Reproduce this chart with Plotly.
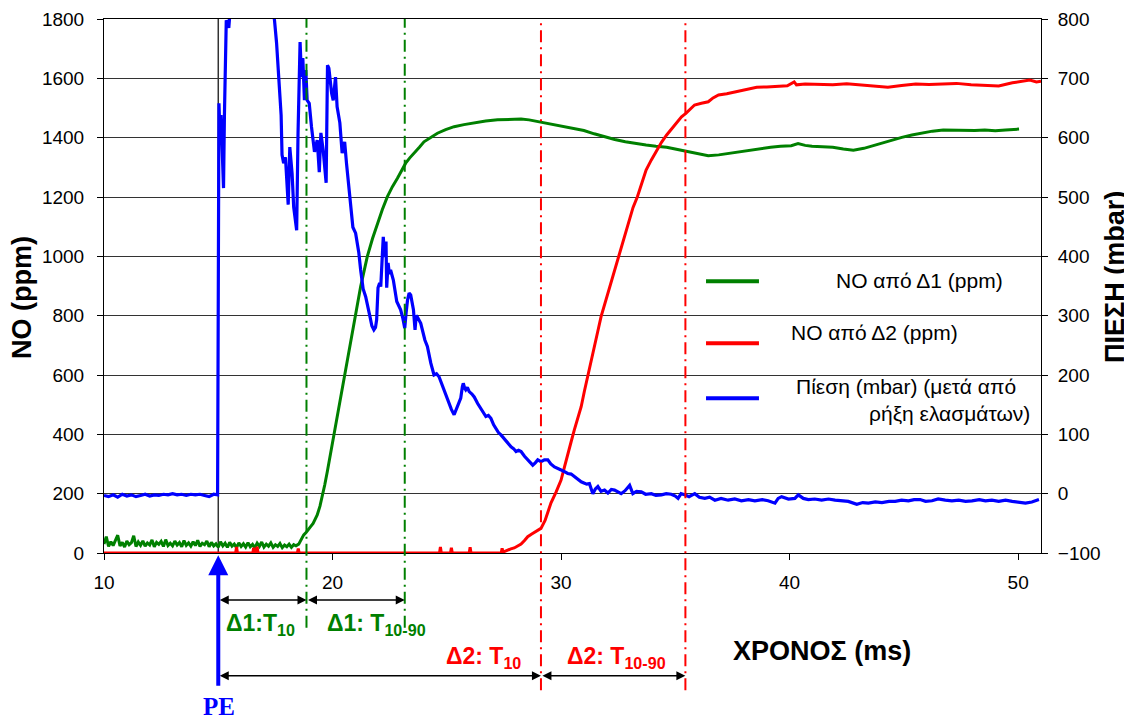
import plotly.graph_objects as go

# ---------------- data ----------------
# NO from detector D1 (ppm)
t_no1 = [10.0, 10.1, 10.2, 10.3, 10.4, 10.5, 10.6, 10.7, 10.8, 10.9,
         11.0, 11.1, 11.2, 11.3, 11.4, 11.5, 11.6, 11.7, 11.8, 11.9,
         12.0, 12.1, 12.2, 12.3, 12.4, 12.5, 12.6, 12.7, 12.8, 12.9,
         13.0, 13.1, 13.2, 13.3, 13.4, 13.5, 13.6, 13.7, 13.8, 13.9,
         14.0, 14.1, 14.2, 14.3, 14.4, 14.5, 14.6, 14.7, 14.8, 14.9,
         15.0, 15.1, 15.2, 15.3, 15.4, 15.5, 15.6, 15.7, 15.8, 15.9,
         16.0, 16.1, 16.2, 16.3, 16.4, 16.5, 16.6, 16.7, 16.8, 16.9,
         17.0, 17.1, 17.2, 17.3, 17.4, 17.5, 17.6, 17.7, 17.8, 17.9,
         18.0, 18.1, 18.2, 18.3, 18.4,
         18.52, 18.6, 18.74, 18.85, 18.95, 19.04, 19.15, 19.25, 19.33, 19.45,
         19.55, 19.66, 19.77, 19.88, 19.99, 20.1, 20.2, 20.35, 20.5, 20.64,
         20.8, 20.94, 21.08, 21.23, 21.38, 21.52, 21.75, 21.96, 22.18, 22.4,
         22.62, 22.84, 23.02, 23.2, 23.38, 23.57, 23.8, 24.0, 24.3, 24.59,
         24.95, 25.32, 25.75, 26.2, 26.7, 27.22, 27.75, 28.25, 28.6, 28.98,
         29.18, 29.6, 30.09, 30.55, 31.0, 31.45, 31.9, 32.35, 32.81, 33.25,
         33.72, 34.15, 34.62, 35.1, 35.53, 36.0, 36.44, 36.9, 37.35, 37.8,
         38.26, 38.7, 39.17, 39.6, 40.07, 40.37, 40.68, 40.98, 41.45, 41.89,
         42.35, 42.79, 43.25, 43.6, 44.0, 44.45, 44.91, 45.35, 45.82, 46.25,
         46.72, 47.2, 47.63, 48.1, 48.54, 49.0, 49.45, 49.75, 50.04]
no1 = [30, 55, 22, 38, 25, 42, 60, 24, 36, 20,
       40, 28, 35, 58, 22, 37, 26, 41, 23, 34,
       27, 44, 21, 36, 29, 39, 22, 45, 25, 33,
       24, 40, 27, 35, 21, 42, 26, 34, 23, 38,
       25, 43, 22, 33, 28, 40, 21, 36, 24, 31,
       20, 38, 24, 33, 19, 36, 23, 30, 18, 34,
       22, 31, 20, 35, 21, 29, 18, 33, 22, 37,
       20, 30, 23, 34, 19, 28, 22, 32, 18, 27,
       21, 30, 19, 28, 24,
       30, 42, 61, 70, 82, 89, 100, 115, 128, 158,
       190, 230, 274, 322, 370, 415, 459, 516, 585, 651,
       722, 785, 845, 898, 950, 999, 1060, 1111, 1158, 1201,
       1235, 1263, 1290, 1314, 1332, 1347, 1368, 1386, 1402, 1415,
       1427, 1437, 1444, 1450, 1456, 1460, 1462, 1463, 1460, 1454,
       1452, 1445, 1437, 1430, 1424, 1413, 1403, 1394, 1386, 1380,
       1375, 1371, 1368, 1360, 1353, 1345, 1339, 1342, 1347, 1353,
       1358, 1364, 1368, 1371, 1373, 1380, 1374, 1371, 1370, 1368,
       1362, 1358, 1364, 1372, 1381, 1391, 1401, 1409, 1417, 1422,
       1426, 1425, 1426, 1424, 1426, 1423, 1426, 1428, 1429]

# NO from detector D2 (ppm)
t_no2 = [10.0, 15.76, 15.8, 15.84, 16.51, 16.55, 16.59, 16.66, 16.7, 16.74,
         18.46, 18.5, 18.54, 24.68, 24.72, 24.76, 25.16, 25.2, 25.24, 25.98,
         26.02, 26.06, 27.38, 27.42, 27.46, 27.6, 27.8, 27.95, 28.1, 28.25,
         28.4, 28.54, 28.7, 28.85, 29.0, 29.12, 29.3, 29.45, 29.56, 29.78,
         30.0, 30.15, 30.29, 30.44, 30.58, 30.73, 30.88, 31.02, 31.17, 31.31,
         31.46, 31.6, 31.75, 31.95, 32.15, 32.33, 32.51, 32.74, 32.96, 33.15,
         33.34, 33.53, 33.72, 33.95, 34.18, 34.4, 34.62, 34.85, 35.08, 35.27,
         35.46, 35.65, 35.84, 36.14, 36.44, 36.65, 36.89, 37.25, 37.65, 38.1,
         38.56, 39.0, 39.47, 39.9, 40.2, 40.3, 40.68, 41.3, 41.89, 42.5,
         43.09, 43.7, 44.3, 44.9, 45.52, 46.1, 46.72, 47.3, 47.94, 48.5,
         49.15, 49.75, 50.1, 50.51, 50.8, 51.0]
no2 = [0, 0, 20, 0, 0, 18, 0, 0, 21, 0,
       0, 15, 0, 0, 20, 0, 0, 18, 0, 0,
       19, 0, 0, 16, 3, 8, 14, 17, 24, 30,
       42, 55, 63, 70, 78, 83, 110, 140, 169, 205,
       246, 290, 336, 375, 415, 455, 493, 545, 594, 645,
       695, 745, 797, 850, 905, 950, 999, 1060, 1122, 1165,
       1201, 1248, 1291, 1325, 1358, 1385, 1409, 1432, 1454, 1470,
       1482, 1496, 1510, 1516, 1521, 1534, 1544, 1548, 1555, 1562,
       1570, 1571, 1572, 1575, 1588, 1578, 1581, 1580, 1578, 1582,
       1578, 1575, 1570, 1576, 1581, 1579, 1581, 1583, 1578, 1575,
       1574, 1585, 1588, 1594, 1588, 1590]

# Pressure (mbar), after rupture of the diaphragms
t_p = [10.0, 10.2, 10.4, 10.6, 10.8, 11.0, 11.2, 11.4, 11.6, 11.8,
       12.0, 12.2, 12.4, 12.6, 12.8, 13.0, 13.2, 13.4, 13.6, 13.8,
       14.0, 14.2, 14.4, 14.6, 14.8, 14.97, 15.03, 15.08, 15.12, 15.18,
       15.23, 15.27, 15.31, 15.35, 15.42, 15.46, 15.5, 15.56, 15.8, 16.2,
       16.6, 17.0, 17.3, 17.46, 17.55, 17.68, 17.75, 17.79, 17.86, 17.94,
       18.0, 18.06, 18.13, 18.23, 18.3, 18.37, 18.43, 18.49, 18.58, 18.64,
       18.7, 18.77, 18.83, 18.89, 18.98, 19.08, 19.21, 19.33, 19.42, 19.49,
       19.59, 19.72, 19.78, 19.84, 19.96, 20.03, 20.13, 20.2, 20.32, 20.42,
       20.53, 20.61, 20.75, 20.89, 21.01, 21.15, 21.23, 21.34, 21.45, 21.55,
       21.64, 21.72, 21.81, 21.88, 21.93, 21.99, 22.06, 22.11, 22.17, 22.22,
       22.26, 22.3, 22.34, 22.37, 22.43, 22.49, 22.54, 22.66, 22.81, 22.9,
       22.98, 23.08, 23.16, 23.22, 23.28, 23.35, 23.42, 23.54, 23.61, 23.66,
       23.71, 23.86, 23.95, 24.04, 24.15, 24.22, 24.3, 24.44, 24.55, 24.66,
       24.77, 24.88, 25.0, 25.1, 25.2, 25.32, 25.4, 25.47, 25.55, 25.61,
       25.68, 25.72, 25.78, 25.83, 25.9, 25.98, 26.1, 26.2, 26.35, 26.49,
       26.6, 26.71, 26.82, 26.93, 27.05, 27.15, 27.26, 27.37, 27.48, 27.59,
       27.7, 27.81, 27.92, 28.03, 28.14, 28.25, 28.4, 28.54, 28.65, 28.76,
       28.87, 28.98, 29.12, 29.27, 29.42, 29.55, 29.71, 29.85, 30.0, 30.15,
       30.29, 30.44, 30.58, 30.7, 30.8, 30.88, 31.0, 31.12, 31.24, 31.39,
       31.5, 31.61, 31.75, 31.9, 32.05, 32.2, 32.34, 32.5, 32.63, 32.8,
       33.0, 33.14, 33.3, 33.51, 33.7, 33.95, 34.15, 34.39, 34.6, 34.82,
       35.0, 35.12, 35.25, 35.41, 35.6, 35.85, 36.05, 36.29, 36.5, 36.73,
       37.0, 37.31, 37.6, 37.89, 38.2, 38.48, 38.8, 39.06, 39.36, 39.5,
       39.65, 39.95, 40.23, 40.38, 40.6, 40.82, 41.1, 41.4, 41.7, 41.99,
       42.3, 42.57, 42.94, 43.2, 43.45, 43.75, 44.04, 44.35, 44.62, 44.9,
       45.2, 45.45, 45.71, 45.95, 46.23, 46.5, 46.81, 47.1, 47.4, 47.7,
       47.98, 48.3, 48.57, 48.85, 49.15, 49.45, 49.74, 50.05, 50.32, 50.6,
       50.91]
p = [-3, -5, -2, -6, -1, -4, -2, -5, -3, -1,
     -4, -2, -3, -1, -2, 0, -2, -1, -3, -1,
     -2, -1, -3, -5, -1, -2, 658, 600, 638, 560,
     515, 640, 731, 798, 790, 785, 805, 850, 920, 980,
     960, 900, 840, 798, 760, 680, 638, 571, 557, 567,
     530, 487, 584, 540, 483, 460, 444, 608, 761, 702,
     734, 663, 714, 663, 658, 618, 576, 596, 542, 608,
     579, 524, 722, 717, 675, 663, 702, 652, 625, 574,
     593, 557, 507, 449, 439, 406, 377, 345, 332, 310,
     298, 283, 276, 280, 293, 347, 355, 349, 400, 433,
     410, 399, 425, 347, 389, 370, 377, 360, 324, 318,
     310, 295, 279, 305, 326, 338, 335, 310, 276, 300,
     298, 287, 270, 259, 248, 232, 220, 200, 202, 197,
     185, 175, 163, 152, 142, 133, 140, 147, 155, 161,
     180, 186, 178, 175, 179, 172, 168, 163, 152, 144,
     137, 130, 132, 127, 116, 110, 103, 99, 94, 88,
     83, 79, 76, 71, 73, 71, 63, 57, 52, 48,
     52, 57, 54, 57, 57, 50, 45, 43, 40, 37,
     34, 33, 29, 26, 22, 20, 18, 16, 17, 0,
     8, 12, 4, 6, 1, 7, 6, 3, 0, 5,
     14, 0, 4, 3, -1, 0, -3, -2, 0, -1,
     -4, -8, 0, -2, -5, 0, -6, -8, -6, -11,
     -8, -11, -9, -12, -10, -12, -10, -12, -16, -8,
     -5, -9, -8, -2, -8, -10, -9, -11, -9, -11,
     -12, -13, -18, -15, -16, -14, -15, -13, -13, -11,
     -12, -10, -10, -13, -12, -9, -11, -12, -11, -13,
     -12, -10, -12, -11, -13, -11, -13, -14, -16, -14,
     -10]

# event times (ms)
t_pe = 15.0
t_d1_10 = 18.86
t_d1_90 = 23.16
t_d2_10 = 29.12
t_d2_90 = 35.44

series_names = ["NO από Δ1 (ppm)", "NO από Δ2 (ppm)",
                "Πίεση (mbar) (μετά από", "ρήξη ελασμάτων)"]
x_ticks = [10, 20, 30, 40, 50]

GREEN = "#008000"
RED = "#FF0000"
BLUE = "#0000FF"
FONT = "Arial, Liberation Sans, sans-serif"

fig = go.Figure()
fig.add_trace(go.Scatter(x=t_no1, y=no1, mode="lines", name=series_names[0],
                         line=dict(color=GREEN, width=3), yaxis="y"))
fig.add_trace(go.Scatter(x=t_no2, y=no2, mode="lines", name=series_names[1],
                         line=dict(color=RED, width=3), yaxis="y"))
fig.add_trace(go.Scatter(x=t_p, y=p, mode="lines", name=series_names[2],
                         line=dict(color=BLUE, width=3.2), yaxis="y2"))

shapes = []
# PE vertical line
shapes.append(dict(type="line", xref="x", yref="paper", x0=t_pe, x1=t_pe, y0=0, y1=1,
                   line=dict(color="#333333", width=1.5), layer="below"))
for tt in (t_d1_10, t_d1_90):
    shapes.append(dict(type="line", xref="x", yref="paper", x0=tt, x1=tt, y0=-0.14, y1=1,
                       line=dict(color=GREEN, width=2, dash="12px,5px,2px,5px")))
for tt in (t_d2_10, t_d2_90):
    shapes.append(dict(type="line", xref="x", yref="paper", x0=tt, x1=tt, y0=-0.257, y1=1,
                       line=dict(color=RED, width=2, dash="12px,5px,2px,5px")))

# legend samples
for yy, col in ((0.509, GREEN), (0.393, RED), (0.290, BLUE)):
    shapes.append(dict(type="line", xref="paper", yref="paper", x0=0.6425, x1=0.699,
                       y0=yy, y1=yy, line=dict(color=col, width=4)))

ann = []
# double arrows
def darrow(t0, t1, yp):
    return dict(x=t1, y=yp, xref="x", yref="paper", ax=t0, ay=0, axref="x", ayref="pixel",
                text="", showarrow=True, arrowside="end+start", arrowhead=2, startarrowhead=2,
                arrowsize=1.2, startarrowsize=1.2, arrowwidth=1.5, arrowcolor="black",
                standoff=0, startstandoff=0)

ann.append(darrow(t_pe, t_d1_10, -0.088))
ann.append(darrow(t_d1_10, t_d1_90, -0.088))
ann.append(darrow(t_pe, t_d2_10, -0.230))
ann.append(darrow(t_d2_10, t_d2_90, -0.230))

# PE arrow
ann.append(dict(x=t_pe, y=-0.004, xref="x", yref="paper", ax=0, ay=132, text="",
                showarrow=True, arrowhead=2, arrowsize=1, arrowwidth=4, arrowcolor=BLUE,
                standoff=0))

def label(txt, t, yp, col, size=23, fam=FONT):
    return dict(x=t, y=yp, xref="x", yref="paper", text=txt, showarrow=False,
                font=dict(family=fam, size=size, color=col), xanchor="center", yanchor="middle")

ann.append(label("<b>Δ1:T<sub>10</sub></b>", 16.84, -0.133, GREEN))
ann.append(label("<b>Δ1: T<sub>10-90</sub></b>", 21.93, -0.133, GREEN))
ann.append(label("<b>Δ2: T<sub>10</sub></b>", 26.62, -0.195, RED))
ann.append(label("<b>Δ2: T<sub>10-90</sub></b>", 32.41, -0.195, RED))
ann.append(label("<b>PE</b>", 15.04, -0.288, BLUE, size=25,
                 fam="Liberation Serif, Times New Roman, serif"))

def ptext(txt, xp, yp, size, xa="center", angle=0):
    return dict(x=xp, y=yp, xref="paper", yref="paper", text=txt, showarrow=False,
                xanchor=xa, yanchor="middle", textangle=angle,
                font=dict(family=FONT, size=size, color="black"))

ann.append(ptext("<b>ΧΡΟΝΟΣ (ms)</b>", 0.766, -0.1835, 27))
ann.append(ptext("<b>NO (ppm)</b>", -0.0875, 0.4775, 27, angle=-90))
ann.append(ptext("<b>ΠΙΕΣΗ (mbar)</b>", 1.079, 0.517, 27, angle=-90))

# legend texts
ann.append(ptext(series_names[0], 0.9616, 0.511, 21, xa="right"))
ann.append(ptext(series_names[1], 0.731, 0.412, 21, xa="left"))
ann.append(ptext(series_names[2], 0.9755, 0.311, 21, xa="right"))
ann.append(ptext(series_names[3], 0.990, 0.262, 21, xa="right"))

# the page body adds an 8px offset; the figure is sized to sit inside the window
fig.update_layout(
    width=1124, height=712,
    margin=dict(l=96, r=91, t=11, b=167, autoexpand=False),
    paper_bgcolor="white", plot_bgcolor="white",
    showlegend=False,
    font=dict(family=FONT, size=19, color="black"),
    xaxis=dict(range=[10, 51], tickvals=x_ticks, showgrid=False, zeroline=False,
               showline=True, linecolor="black", linewidth=1, mirror=True,
               ticks="outside", ticklen=6, tickcolor="black", automargin=False,
               tickfont=dict(size=19), ticklabelstandoff=6),
    yaxis=dict(range=[0, 1800], dtick=200, showgrid=True, gridcolor="#333333", gridwidth=1,
               zeroline=False, showline=True, linecolor="black", linewidth=1,
               ticks="outside", ticklen=6, tickcolor="black", tickfont=dict(size=19),
               ticklabelstandoff=9, automargin=False),
    yaxis2=dict(range=[-100, 800], dtick=100, overlaying="y", side="right", showgrid=False,
                zeroline=False, showline=True, linecolor="black", linewidth=1,
                ticks="outside", ticklen=6, tickcolor="black", tickfont=dict(size=19),
                ticklabelstandoff=6, automargin=False),
    shapes=shapes, annotations=ann,
)

fig.write_html("out.html")
